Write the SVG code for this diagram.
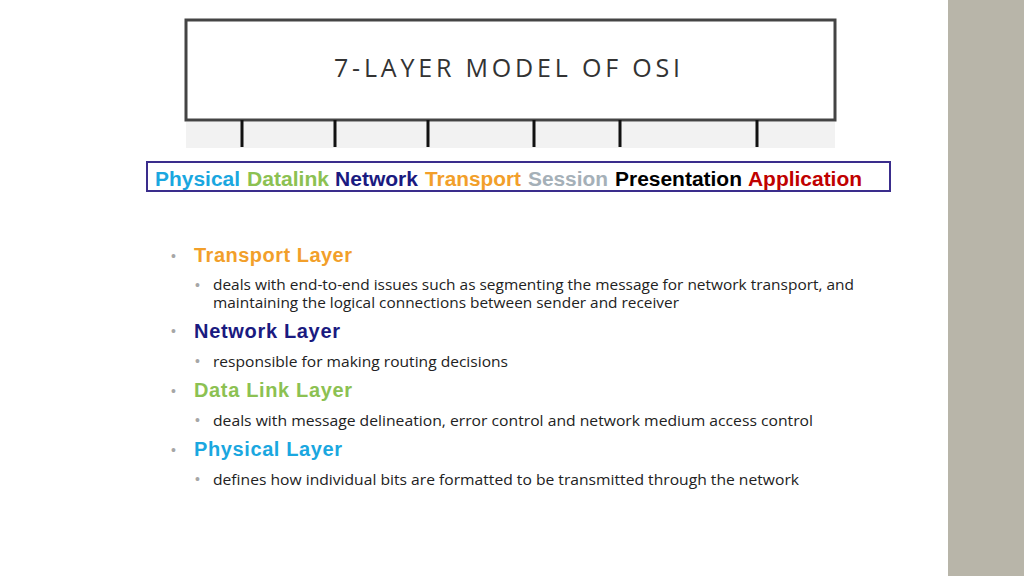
<svg xmlns="http://www.w3.org/2000/svg" width="1024" height="576" viewBox="0 0 1024 576">
<style>
.b{font-family:"Liberation Sans",Arial,sans-serif;font-weight:bold;font-size:20px}
.h{font-family:"Liberation Sans",Arial,sans-serif;font-weight:bold;font-size:20px}
.t{font-family:"Open Sans","Liberation Sans",sans-serif;font-size:15px;fill:#222}
.d{fill:#a6a6a6;font-family:"Liberation Sans",sans-serif;font-size:14px}
.tick{stroke:#111;stroke-width:3}
</style>
<rect width="1024" height="576" fill="#fff"/>
<rect x="948" y="0" width="76" height="576" fill="#b8b5a9"/>
<g id="title">
<rect x="186" y="122" width="649" height="26" fill="#f2f2f2"/>
<rect x="186" y="20" width="649" height="100" fill="#fff" stroke="#444" stroke-width="3"/>
<text x="334" y="77" textLength="346" lengthAdjust="spacing" font-family="'Open Sans','Liberation Sans',sans-serif" font-size="25" fill="#333">7-LAYER MODEL OF OSI</text>
</g>
<g id="connectors">
<line class="tick" x1="242" y1="120" x2="242" y2="147"/>
<line class="tick" x1="335" y1="120" x2="335" y2="147"/>
<line class="tick" x1="428" y1="120" x2="428" y2="147"/>
<line class="tick" x1="534" y1="120" x2="534" y2="147"/>
<line class="tick" x1="620" y1="120" x2="620" y2="147"/>
<line class="tick" x1="757" y1="120" x2="757" y2="147"/>
</g>
<g id="layers">
<rect x="147" y="162" width="743" height="29" fill="#fff" stroke="#3a2d8c" stroke-width="2"/>
<text class="b" x="155" y="186" fill="#1aa7e0" textLength="85" lengthAdjust="spacingAndGlyphs">Physical</text>
<text class="b" x="247" y="186" fill="#8cc152" textLength="82" lengthAdjust="spacingAndGlyphs">Datalink</text>
<text class="b" x="335" y="186" fill="#1a1a80" textLength="83" lengthAdjust="spacingAndGlyphs">Network</text>
<text class="b" x="425" y="186" fill="#f29f2a" textLength="96" lengthAdjust="spacingAndGlyphs">Transport</text>
<text class="b" x="528" y="186" fill="#a5b0b8" textLength="80" lengthAdjust="spacingAndGlyphs">Session</text>
<text class="b" x="615" y="186" fill="#000" textLength="127" lengthAdjust="spacingAndGlyphs">Presentation</text>
<text class="b" x="748" y="186" fill="#c00000" textLength="114" lengthAdjust="spacingAndGlyphs">Application</text>
</g>
<g id="body">
<text class="d" x="171" y="261">•</text>
<text class="h" x="194" y="262" fill="#f29f2a" textLength="158">Transport Layer</text>
<text class="d" x="195" y="290">•</text>
<text class="t" x="213" y="290" textLength="641" lengthAdjust="spacingAndGlyphs">deals with end-to-end issues such as segmenting the message for network transport, and</text>
<text class="t" x="213" y="308" textLength="466" lengthAdjust="spacingAndGlyphs">maintaining the logical connections between sender and receiver</text>
<text class="d" x="171" y="336">•</text>
<text class="h" x="194" y="338" fill="#1a1a80" textLength="146">Network Layer</text>
<text class="d" x="195" y="366">•</text>
<text class="t" x="213" y="367" textLength="295" lengthAdjust="spacingAndGlyphs">responsible for making routing decisions</text>
<text class="d" x="171" y="396">•</text>
<text class="h" x="194" y="397" fill="#8cc152" textLength="158">Data Link Layer</text>
<text class="d" x="195" y="425">•</text>
<text class="t" x="213" y="426" textLength="600" lengthAdjust="spacingAndGlyphs">deals with message delineation, error control and network medium access control</text>
<text class="d" x="171" y="455">•</text>
<text class="h" x="194" y="456" fill="#1aa7e0" textLength="148">Physical Layer</text>
<text class="d" x="195" y="484">•</text>
<text class="t" x="213" y="485" textLength="586" lengthAdjust="spacingAndGlyphs">defines how individual bits are formatted to be transmitted through the network</text>
</g>
</svg>
